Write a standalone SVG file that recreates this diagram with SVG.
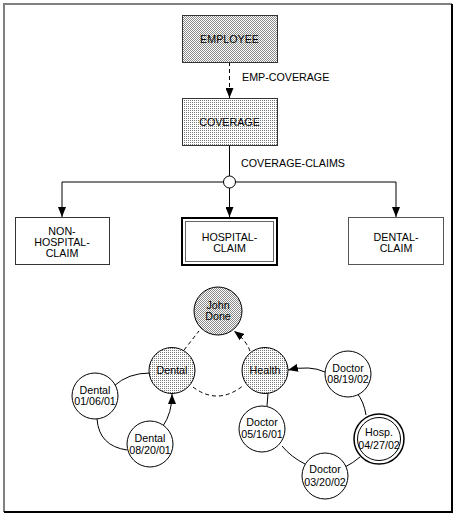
<svg xmlns="http://www.w3.org/2000/svg" width="460" height="517" viewBox="0 0 460 517">
<defs>
<pattern id="check" width="2" height="2" patternUnits="userSpaceOnUse">
<rect width="2" height="2" fill="#fff"/>
<rect width="1" height="1" fill="#8a8a8a"/>
<rect x="1" y="1" width="1" height="1" fill="#8a8a8a"/>
</pattern>
<pattern id="dots" width="2" height="2" patternUnits="userSpaceOnUse">
<rect width="2" height="2" fill="#fff"/>
<rect width="1" height="1" fill="#7a7a7a"/>
</pattern>
<marker id="arr" viewBox="0 0 10 8" refX="10" refY="4" markerWidth="10" markerHeight="8" orient="auto" markerUnits="userSpaceOnUse">
<path d="M0,0 L10,4 L0,8 z" fill="#000"/>
</marker>
</defs>
<style>
text{font-family:"Liberation Sans",Arial,sans-serif;font-size:10.7px;fill:#000;text-anchor:middle}
.lbl{text-anchor:start}
.box{stroke:#333;stroke-width:1}
.c{fill:#fff;stroke:#000;stroke-width:1}
.ln{fill:none;stroke:#000;stroke-width:1}
.dash{fill:none;stroke:#000;stroke-width:1;stroke-dasharray:4 3}
</style>
<rect width="460" height="517" fill="#fff"/>
<g id="frame">
<path d="M4,512 L4,4 L452,4" fill="none" stroke="#808080" stroke-width="2"/>
<path d="M4,512 L452,512 L452,4" fill="none" stroke="#000" stroke-width="2"/>
</g>
<g id="connectors">
<path class="dash" d="M229.5,62 L229.5,98" marker-end="url(#arr)"/>
<text class="lbl" x="242" y="81">EMP-COVERAGE</text>
<path class="ln" d="M229.5,146 L229.5,176"/>
<text class="lbl" x="241" y="167">COVERAGE-CLAIMS</text>
<circle cx="229.5" cy="182" r="6" fill="#fff" stroke="#000"/>
<path class="ln" d="M223.5,182 L62,182 L62,217" marker-end="url(#arr)"/>
<path class="ln" d="M235.5,182 L396,182 L396,217" marker-end="url(#arr)"/>
<path class="ln" d="M229.5,188 L229.5,217" marker-end="url(#arr)"/>
<path class="ln" d="M325,372 Q310,365 288,370" marker-end="url(#arr)"/>
<path class="ln" d="M268,393 L267,406"/>
<path class="ln" d="M282,446 Q291,457 305,464"/>
<path class="ln" d="M345,467 Q353,463 360,457"/>
<path class="ln" d="M366,415 Q364,402 357,393"/>
<path class="ln" d="M150,373 Q128,373 114,386"/>
<path class="ln" d="M97,419 Q99,446 127,450"/>
<path class="ln" d="M163,426 Q172,413 172,394" marker-end="url(#arr)"/>
<path class="dash" d="M184,350 L199,331"/>
<path class="dash" d="M250,351 Q246,340 234,331" marker-end="url(#arr)"/>
<path class="dash" d="M193,387 Q218,406 244,385"/>
</g>
<g id="employee">
<rect class="box" x="182.5" y="15.5" width="95" height="47" fill="url(#check)"/>
<text x="229.5" y="43">EMPLOYEE</text>
</g>
<g id="coverage">
<rect class="box" x="182.5" y="98.5" width="95" height="47" fill="url(#dots)"/>
<text x="229.5" y="125.5">COVERAGE</text>
</g>
<g id="non-hospital-claim">
<rect class="box" x="15.5" y="217.5" width="94" height="47" fill="#fff"/>
<text x="62" y="234.5">NON-</text>
<text x="62" y="245.5">HOSPITAL-</text>
<text x="62" y="256.5">CLAIM</text>
</g>
<g id="hospital-claim">
<rect x="182" y="218" width="95" height="47" fill="#fff" stroke="#000" stroke-width="2"/>
<rect x="185.5" y="221.5" width="88" height="40" fill="none" stroke="#666" stroke-width="1"/>
<text x="229.5" y="240.5">HOSPITAL-</text>
<text x="229.5" y="251.5">CLAIM</text>
</g>
<g id="dental-claim">
<rect x="348.5" y="217.5" width="95" height="47" fill="#fff" stroke="#555" stroke-width="1"/>
<text x="396" y="240.5">DENTAL-</text>
<text x="396" y="251.5">CLAIM</text>
</g>
<g id="john-done">
<circle cx="218" cy="311" r="24" fill="url(#check)" stroke="#000"/>
<text x="218" y="308.5">John</text>
<text x="218" y="320">Done</text>
</g>
<g id="dental">
<circle cx="172" cy="370.5" r="23" fill="url(#dots)" stroke="#000"/>
<text x="172" y="374">Dental</text>
</g>
<g id="health">
<circle cx="265" cy="370.5" r="23" fill="url(#dots)" stroke="#000"/>
<text x="265" y="374">Health</text>
</g>
<g id="dental-010601">
<circle class="c" cx="95" cy="396" r="23"/>
<text x="95" y="393.5">Dental</text>
<text x="95" y="405">01/06/01</text>
</g>
<g id="dental-082001">
<circle class="c" cx="150" cy="444" r="23"/>
<text x="150" y="442">Dental</text>
<text x="150" y="453.5">08/20/01</text>
</g>
<g id="doctor-081902">
<circle class="c" cx="348" cy="374" r="23"/>
<text x="348" y="371.7">Doctor</text>
<text x="348" y="383.3">08/19/02</text>
</g>
<g id="doctor-051601">
<circle class="c" cx="262" cy="429" r="23"/>
<text x="262" y="426">Doctor</text>
<text x="262" y="438.3">05/16/01</text>
</g>
<g id="hosp-042702">
<circle cx="379" cy="439" r="25" fill="#fff" stroke="#000" stroke-width="1.5"/>
<circle cx="379" cy="439" r="21.5" fill="none" stroke="#000" stroke-width="1"/>
<text x="379" y="435.7">Hosp.</text>
<text x="379" y="449.3">04/27/02</text>
</g>
<g id="doctor-032002">
<circle class="c" cx="325" cy="476" r="23"/>
<text x="325" y="473.3">Doctor</text>
<text x="325" y="485.7">03/20/02</text>
</g>
</svg>
